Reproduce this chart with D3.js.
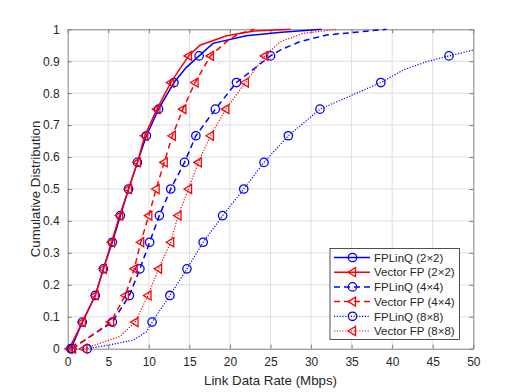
<!DOCTYPE html>
<html>
<head>
<meta charset="utf-8">
<script src="https://cdn.jsdelivr.net/npm/d3@7"></script>
<style>
  body { margin: 0; background: #fff; }
  svg text { font-family: "Liberation Sans", Arial, sans-serif; fill: #262626; }
</style>
</head>
<body>
<div id="chart"></div>
<script>
var width = 523, height = 392;
var margin = {top: 29.3, right: 49.7, bottom: 43.3, left: 67.7};

// CDF levels where markers are drawn
var markerP = [0, 1/12, 2/12, 3/12, 4/12, 5/12, 6/12, 7/12, 8/12, 9/12, 10/12, 11/12];
var xTicks = [0, 5, 10, 15, 20, 25, 30, 35, 40, 45, 50];
var yTicks = [0, 0.1, 0.2, 0.3, 0.4, 0.5, 0.6, 0.7, 0.8, 0.9, 1];
var names = ["FPLinQ (2\u00d72)", "Vector FP (2\u00d72)", "FPLinQ (4\u00d74)", "Vector FP (4\u00d74)", "FPLinQ (8\u00d78)", "Vector FP (8\u00d78)"];

// rate (Mbps) at each marker level
var fplinq2 = [0.4, 1.8, 3.4, 4.4, 5.5, 6.5, 7.5, 8.6, 9.7, 11.2, 13.1, 16.2];
var vector2 = [0.2, 1.8, 3.4, 4.4, 5.4, 6.4, 7.5, 8.6, 9.5, 11.0, 12.7, 14.9];
var fplinq4 = [0.5, 5.5, 7.6, 8.9, 10.1, 11.3, 12.7, 14.4, 15.8, 18.2, 20.8, 25.0];
var vector4 = [0.6, 5.3, 7.1, 8.2, 9.0, 10.0, 10.9, 11.9, 12.9, 14.2, 15.7, 17.6];
var fplinq8 = [2.4, 10.4, 12.6, 14.7, 16.7, 19.1, 21.7, 24.2, 27.2, 31.1, 38.6, 47.0];
var vector8 = [2.0, 8.3, 9.9, 11.2, 12.7, 13.6, 14.9, 16.1, 17.6, 19.5, 21.9, 24.3];

// extra curve points [rate, cdf] between the markers
var fplinq2Extra = [[14.6, 0.88], [17.9, 0.956], [22, 0.98], [26, 0.99], [31.3, 1]];
var vector2Extra = [[16.3, 0.95], [19.6, 0.98], [23, 0.995], [27.5, 1]];
var fplinq4Extra = [[26.2, 0.935], [28.6, 0.961], [31.9, 0.982], [36, 0.992], [39.3, 1]];
var vector4Extra = [[19.5, 0.96], [21, 0.985], [23, 1]];
var fplinq8Extra = [[5.2, 0.012], [8.1, 0.027], [9.7, 0.053], [41.4, 0.873], [44.3, 0.899], [50, 0.935]];
var vector8Extra = [[4.0, 0.017], [6.4, 0.038], [26.2, 0.961], [29, 0.987], [33.2, 1]];

var seriesRates = [fplinq2, vector2, fplinq4, vector4, fplinq8, vector8];
var seriesExtra = [fplinq2Extra, vector2Extra, fplinq4Extra, vector4Extra, fplinq8Extra, vector8Extra];
var colors = ["#0000ff", "#ff0000", "#0000ff", "#ff0000", "#0000ff", "#ff0000"];
var dashes = [null, null, "6,4", "6,4", "1.2,1.6", "1.2,1.6"];
var widths = [1.5, 1.5, 1.5, 1.5, 1.2, 1.2];
var shapes = ["circle", "tri", "circle", "tri", "circle", "tri"];

var series = names.map(function(n, i) {
  var marks = seriesRates[i].map(function(r, k) { return {x: r, p: markerP[k]}; });
  var pts = marks.concat(seriesExtra[i].map(function(d) { return {x: d[0], p: d[1]}; }));
  pts.sort(function(a, b) { return a.p - b.p || a.x - b.x; });
  return {name: n, marks: marks, pts: pts, color: colors[i], dash: dashes[i], width: widths[i], shape: shapes[i]};
});

var svg = d3.select("#chart")
  .append("svg")
  .attr("width", width)
  .attr("height", height);

var xScale = d3.scaleLinear().domain([0, 50]).range([margin.left, width - margin.right]);
var yScale = d3.scaleLinear().domain([0, 1]).range([height - margin.bottom, margin.top]);

// grid
svg.append("g")
  .selectAll("line.gx")
  .data(xTicks.slice(1, -1))
  .enter().append("line")
  .attr("x1", d => xScale(d)).attr("x2", d => xScale(d))
  .attr("y1", yScale(0)).attr("y2", yScale(1))
  .attr("stroke", "#dfdfdf").attr("stroke-width", 1);

svg.append("g")
  .selectAll("line.gy")
  .data(yTicks.slice(1, -1))
  .enter().append("line")
  .attr("x1", xScale(0)).attr("x2", xScale(50))
  .attr("y1", d => yScale(d)).attr("y2", d => yScale(d))
  .attr("stroke", "#dfdfdf").attr("stroke-width", 1);

// axes with inward ticks on all four sides
var xAxis = d3.axisBottom(xScale).tickValues(xTicks).tickSizeInner(-4).tickSizeOuter(0).tickPadding(9);
var yAxis = d3.axisLeft(yScale).tickValues(yTicks).tickSizeInner(-4).tickSizeOuter(0).tickPadding(8)
  .tickFormat(d => d === 0 || d === 1 ? d : d3.format(".1f")(d));

svg.append("g")
  .attr("transform", `translate(0,${yScale(0)})`)
  .call(xAxis)
  .call(g => g.selectAll("text").attr("font-size", "12px").style("fill", "#262626"));

svg.append("g")
  .attr("transform", `translate(${xScale(0)},0)`)
  .call(yAxis)
  .call(g => g.selectAll("text").attr("font-size", "12px").style("fill", "#262626"));

svg.append("g")
  .attr("transform", `translate(0,${yScale(1)})`)
  .call(d3.axisTop(xScale).tickValues(xTicks).tickSizeInner(-4).tickSizeOuter(0).tickFormat(""));

svg.append("g")
  .attr("transform", `translate(${xScale(50)},0)`)
  .call(d3.axisRight(yScale).tickValues(yTicks).tickSizeInner(-4).tickSizeOuter(0).tickFormat(""));

svg.selectAll(".domain, .tick line").attr("stroke", "#808080");

// labels
svg.append("text")
  .attr("x", (xScale(0) + xScale(50)) / 2)
  .attr("y", 385)
  .attr("text-anchor", "middle")
  .attr("font-size", "13.3px")
  .text("Link Data Rate (Mbps)");

svg.append("text")
  .attr("text-anchor", "middle")
  .attr("transform", `translate(39.5,${(yScale(0) + yScale(1)) / 2}) rotate(-90)`)
  .attr("font-size", "13.3px")
  .text("Cumulative Distribution");

// curves
var plot = svg.append("g");
plot.append("clipPath").attr("id", "clip")
  .append("rect")
  .attr("x", xScale(0)).attr("y", yScale(1) - 1)
  .attr("width", xScale(50) - xScale(0)).attr("height", yScale(0) - yScale(1) + 1);

var line = d3.line().x(d => xScale(d.x)).y(d => yScale(d.p));

var triPath = "M-4.5,0L3,-4.5L3,4.5Z";

function drawMarker(sel, s) {
  if (s.shape === "circle") {
    sel.append("circle").attr("r", 4.2);
  } else {
    sel.append("path").attr("d", triPath);
  }
  sel.selectAll("circle, path")
    .attr("fill", "none")
    .attr("stroke", s.color)
    .attr("stroke-width", 1.3);
}

series.forEach(function(s) {
  plot.append("path")
    .datum(s.pts)
    .attr("clip-path", "url(#clip)")
    .attr("d", line)
    .attr("fill", "none")
    .attr("stroke", s.color)
    .attr("stroke-width", s.width)
    .attr("stroke-dasharray", s.dash);

  plot.selectAll(null)
    .data(s.marks)
    .enter()
    .append("g")
    .attr("transform", d => `translate(${xScale(d.x)},${yScale(d.p)})`)
    .each(function() { drawMarker(d3.select(this), s); });
});

// legend
var legend = svg.append("g").attr("transform", "translate(330,248.5)");
legend.append("rect")
  .attr("width", 129.5).attr("height", 91)
  .attr("fill", "#fff").attr("stroke", "#262626").attr("stroke-width", 0.8);

series.forEach(function(s, i) {
  var row = legend.append("g").attr("transform", `translate(0,${9 + i * 14.7})`);
  row.append("line")
    .attr("x1", 4).attr("x2", 40)
    .attr("stroke", s.color)
    .attr("stroke-width", s.width)
    .attr("stroke-dasharray", s.dash);
  var m = row.append("g").attr("transform", "translate(22.5,0)");
  drawMarker(m, s);
  row.append("text")
    .attr("x", 44).attr("y", 4.2)
    .attr("font-size", "11.5px")
    .text(s.name);
});
</script>
</body>
</html>
